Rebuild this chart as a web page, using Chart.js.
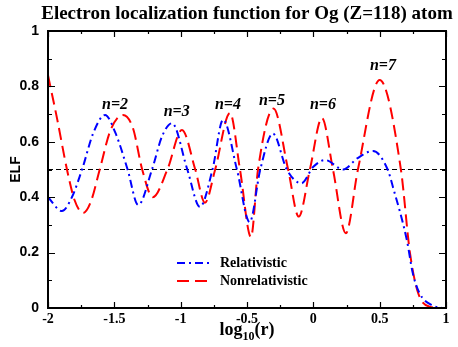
<!DOCTYPE html>
<html>
<head>
<meta charset="utf-8">
<script src="https://cdn.jsdelivr.net/npm/chart.js@4"></script>
<style>
  html, body { margin: 0; padding: 0; background: #fff; }
  #wrap { width: 458px; height: 347px; }
</style>
</head>
<body>
<div id="wrap"><canvas id="elf"></canvas></div>
<script>
// log10(r) positions and ELF values
const xRel = [-2, -1.895, -1.82, -1.74, -1.66, -1.57, -1.49, -1.40, -1.32, -1.216, -1.14, -1.065, -0.95, -0.855, -0.76, -0.68, -0.576, -0.48, -0.40, -0.305, -0.20, -0.09, 0.0, 0.09, 0.225, 0.33, 0.45, 0.56, 0.60, 0.705, 0.75, 0.80, 0.894, 0.97];
const elfRel = [0.40, 0.35, 0.40, 0.505, 0.63, 0.697, 0.63, 0.50, 0.372, 0.50, 0.62, 0.667, 0.50, 0.365, 0.50, 0.68, 0.50, 0.31, 0.50, 0.63, 0.50, 0.45, 0.51, 0.534, 0.50, 0.54, 0.567, 0.50, 0.437, 0.245, 0.125, 0.054, 0.01, 0.0];

const xNonrel = [-2, -1.93, -1.857, -1.80, -1.736, -1.68, -1.61, -1.53, -1.435, -1.36, -1.29, -1.21, -1.10, -0.99, -0.89, -0.817, -0.74, -0.628, -0.553, -0.47, -0.417, -0.30, -0.19, -0.11, -0.026, 0.065, 0.148, 0.245, 0.336, 0.50, 0.66, 0.728, 0.79, 0.88, 0.97];
const elfNonrel = [0.84, 0.68, 0.50, 0.39, 0.343, 0.38, 0.50, 0.64, 0.697, 0.65, 0.50, 0.40, 0.50, 0.643, 0.50, 0.38, 0.50, 0.704, 0.50, 0.256, 0.50, 0.72, 0.50, 0.33, 0.50, 0.686, 0.50, 0.27, 0.50, 0.823, 0.50, 0.20, 0.054, 0.004, 0.0];

const refX = [-2, 1];
const refY = [0.5, 0.5];

const shellLabels = ["n=2", "n=3", "n=4", "n=5", "n=6", "n=7"];
const shellX = [-1.495, -1.03, -0.644, -0.312, 0.072, 0.525];
const shellY = [0.733, 0.708, 0.733, 0.747, 0.733, 0.874];

const seriesNames = ["Relativistic", "Nonrelativistic"];

const pts = (xs, ys) => xs.map((x, i) => ({ x: x, y: ys[i] }));
const plain = v => String(Number(v.toFixed(2)));

const SERIF = '"Liberation Serif", "Times New Roman", serif';
const SANS = '"Liberation Sans", Arial, sans-serif';

const decorations = {
    id: "decorations",
    afterDatasetsDraw(chart) {
        const { ctx, chartArea: a, scales } = chart;
        const xs = scales.x, ys = scales.y;
        ctx.save();

        // frame
        ctx.strokeStyle = "#000";
        ctx.lineWidth = 2;
        ctx.setLineDash([]);
        ctx.strokeRect(a.left, a.top, a.right - a.left, a.bottom - a.top);

        // inward ticks on all four sides
        ctx.lineWidth = 1.2;
        ctx.beginPath();
        for (let v = -2; v <= 1.0001; v += 0.25) {
            const p = Math.round(xs.getPixelForValue(v)) + 0.5;
            const major = Math.abs(v * 2 - Math.round(v * 2)) < 1e-6;
            const len = major ? 6 : 3;
            ctx.moveTo(p, a.bottom); ctx.lineTo(p, a.bottom - len);
            ctx.moveTo(p, a.top); ctx.lineTo(p, a.top + len);
        }
        for (let v = 0; v <= 1.0001; v += 0.1) {
            const p = Math.round(ys.getPixelForValue(v)) + 0.5;
            const major = Math.abs(v * 5 - Math.round(v * 5)) < 1e-6;
            const len = major ? 7 : 4;
            ctx.moveTo(a.left, p); ctx.lineTo(a.left + len, p);
            ctx.moveTo(a.right, p); ctx.lineTo(a.right - len, p);
        }
        ctx.stroke();

        ctx.fillStyle = "#000";

        // shell labels
        ctx.font = "italic bold 16px " + SERIF;
        ctx.textAlign = "center";
        ctx.textBaseline = "middle";
        shellLabels.forEach((t, i) => {
            ctx.fillText(t, xs.getPixelForValue(shellX[i]), ys.getPixelForValue(shellY[i]));
        });

        // legend inside the plot
        const ds = chart.data.datasets;
        const lx = a.left + 129, ly = a.top + 232;
        [0, 1].forEach(i => {
            const y = ly + i * 18;
            ctx.strokeStyle = ds[i].borderColor;
            ctx.lineWidth = 2;
            ctx.setLineDash(ds[i].borderDash);
            ctx.beginPath();
            ctx.moveTo(lx, y); ctx.lineTo(lx + 32, y);
            ctx.stroke();
            ctx.setLineDash([]);
            ctx.font = "bold 14px " + SERIF;
            ctx.textAlign = "left";
            ctx.fillText(seriesNames[i], lx + 43, y);
        });

        // title
        ctx.font = "bold 19px " + SERIF;
        ctx.textAlign = "center";
        ctx.fillText("Electron localization function for Og (Z=118) atom", (a.left + a.right) / 2, 14);

        // y axis title
        ctx.save();
        ctx.translate(16, (a.top + a.bottom) / 2);
        ctx.rotate(-Math.PI / 2);
        ctx.font = "bold 14px " + SANS;
        ctx.fillText("ELF", 0, 0);
        ctx.restore();

        // x axis title with subscript
        const cx = (a.left + a.right) / 2, by = 335;
        ctx.textBaseline = "alphabetic";
        ctx.font = "bold 18px " + SERIF;
        const w1 = ctx.measureText("log").width;
        const w3 = ctx.measureText("(r)").width;
        ctx.font = "bold 12px " + SERIF;
        const w2 = ctx.measureText("10").width;
        let x0 = cx - (w1 + w2 + w3) / 2;
        ctx.textAlign = "left";
        ctx.font = "bold 18px " + SERIF;
        ctx.fillText("log", x0, by);
        ctx.font = "bold 12px " + SERIF;
        ctx.fillText("10", x0 + w1, by + 5);
        ctx.font = "bold 18px " + SERIF;
        ctx.fillText("(r)", x0 + w1 + w2, by);

        ctx.restore();
    }
};

new Chart(document.getElementById("elf"), {
    type: "line",
    data: {
        datasets: [
            {
                label: seriesNames[0],
                data: pts(xRel, elfRel),
                borderColor: "#0000ff",
                borderWidth: 2,
                borderDash: [8, 4, 2, 4],
                cubicInterpolationMode: "monotone",
                pointRadius: 0,
                fill: false
            },
            {
                label: seriesNames[1],
                data: pts(xNonrel, elfNonrel),
                borderColor: "#ff0000",
                borderWidth: 2,
                borderDash: [12, 6],
                cubicInterpolationMode: "monotone",
                pointRadius: 0,
                fill: false
            },
            {
                label: "ELF = 0.5",
                data: pts(refX, refY),
                borderColor: "#000000",
                borderWidth: 1.2,
                borderDash: [5, 3],
                pointRadius: 0,
                fill: false
            }
        ]
    },
    options: {
        responsive: true,
        maintainAspectRatio: false,
        animation: false,
        layout: { padding: { top: 31, right: 12, left: 0, bottom: 0 } },
        plugins: {
            legend: { display: false },
            title: { display: false },
            tooltip: { enabled: false }
        },
        scales: {
            x: {
                type: "linear",
                min: -2,
                max: 1,
                grid: { display: false, drawTicks: false },
                border: { display: false },
                ticks: {
                    stepSize: 0.5,
                    padding: 3,
                    color: "#000",
                    maxRotation: 0,
                    callback: plain,
                    font: { family: SERIF, weight: "bold", size: 14 }
                },
                afterFit(scale) { scale.height = 39; }
            },
            y: {
                min: 0,
                max: 1,
                grid: { display: false, drawTicks: false },
                border: { display: false },
                ticks: {
                    stepSize: 0.2,
                    padding: 9,
                    color: "#000",
                    callback: plain,
                    font: { family: SANS, weight: "bold", size: 14 }
                },
                afterFit(scale) { scale.width = 48; }
            }
        }
    },
    plugins: [decorations]
});
</script>
</body>
</html>
